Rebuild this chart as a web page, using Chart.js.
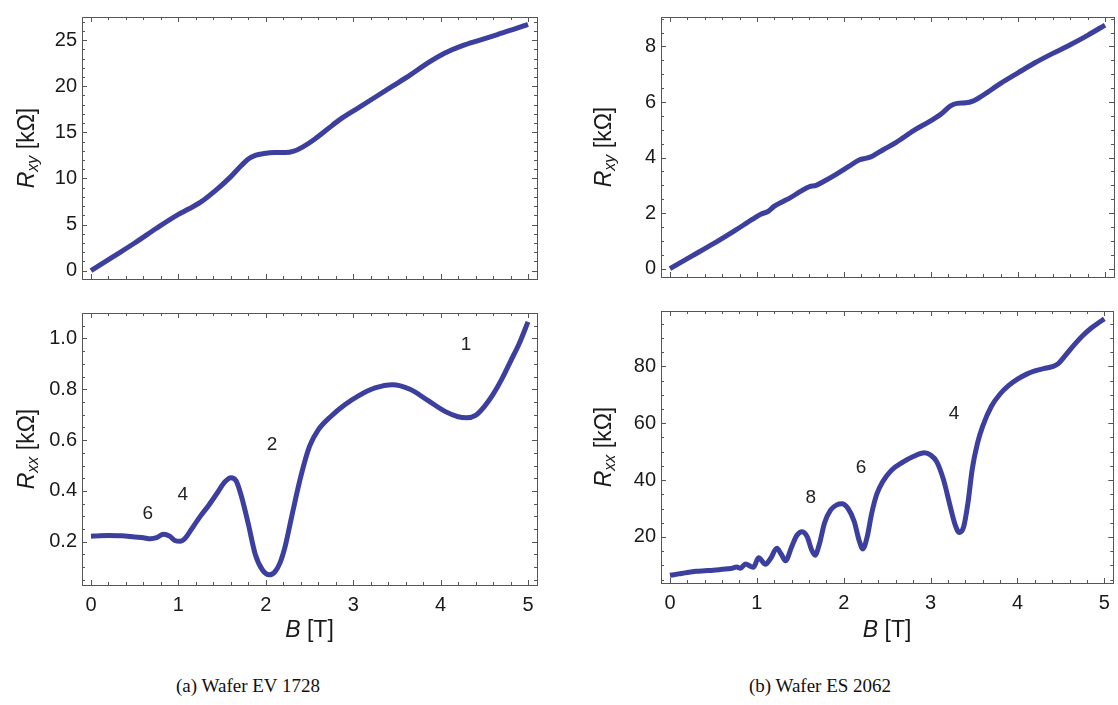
<!DOCTYPE html>
<html>
<head>
<meta charset="utf-8">
<script src="https://cdn.jsdelivr.net/npm/chart.js@4.4.1/dist/chart.umd.min.js"></script>
<style>
  body { margin: 0; background: #fff; width: 1118px; height: 705px; position: relative; overflow: hidden; }
  canvas { position: absolute; }
  .cap { position: absolute; top: 675px; font-family: "Liberation Serif", serif; font-size: 19px; color: #111; transform: translateX(-50%); white-space: nowrap; }
</style>
</head>
<body>
<canvas id="rxyA" width="560" height="296" style="left:0px;top:0px"></canvas>
<canvas id="rxxA" width="560" height="370" style="left:0px;top:296px"></canvas>
<canvas id="rxyB" width="558" height="294" style="left:560px;top:0px"></canvas>
<canvas id="rxxB" width="558" height="372" style="left:560px;top:294px"></canvas>
<div class="cap" style="left:248px">(a) Wafer EV 1728</div>
<div class="cap" style="left:820px">(b) Wafer ES 2062</div>
<script>
// ---- data ----
// (a) Wafer EV 1728
const bRxyA = [0, 0.25, 0.5, 0.75, 1.0, 1.1, 1.25, 1.45, 1.6, 1.72, 1.8, 1.88, 1.98, 2.1, 2.22, 2.32, 2.42, 2.55, 2.7, 2.85, 3.05, 3.25, 3.45, 3.65, 3.85, 4.05, 4.25, 4.45, 4.65, 4.85, 5.0];
const rxyA  = [0, 1.5, 3.0, 4.6, 6.1, 6.6, 7.4, 8.9, 10.2, 11.4, 12.1, 12.5, 12.7, 12.8, 12.8, 12.95, 13.4, 14.2, 15.3, 16.4, 17.6, 18.8, 20.0, 21.2, 22.5, 23.6, 24.4, 25.0, 25.6, 26.2, 26.7];

const bRxxA = [0, 0.1, 0.2, 0.35, 0.5, 0.6, 0.68, 0.75, 0.83, 0.9, 0.96, 1.02, 1.08, 1.15, 1.25, 1.35, 1.45, 1.53, 1.6, 1.66, 1.72, 1.8, 1.88, 1.96, 2.04, 2.1, 2.16, 2.22, 2.3, 2.4, 2.5, 2.6, 2.75, 2.9, 3.05, 3.25, 3.45, 3.65, 3.85, 4.05, 4.2, 4.3, 4.4, 4.5, 4.6, 4.7, 4.8, 4.9, 5.0];
const rxxA  = [0.222, 0.224, 0.225, 0.224, 0.219, 0.216, 0.212, 0.216, 0.23, 0.222, 0.205, 0.202, 0.215, 0.25, 0.30, 0.345, 0.395, 0.435, 0.452, 0.44, 0.38, 0.27, 0.15, 0.09, 0.07, 0.08, 0.115, 0.18, 0.305, 0.456, 0.575, 0.64, 0.695, 0.738, 0.772, 0.805, 0.818, 0.80, 0.757, 0.713, 0.692, 0.688, 0.697, 0.732, 0.78, 0.84, 0.91, 0.98, 1.065];

// (b) Wafer ES 2062
const bRxyB = [0, 0.25, 0.5, 0.75, 0.95, 1.05, 1.12, 1.2, 1.3, 1.38, 1.5, 1.6, 1.68, 1.76, 1.9, 2.05, 2.18, 2.26, 2.33, 2.45, 2.6, 2.8, 3.0, 3.12, 3.22, 3.3, 3.4, 3.48, 3.6, 3.8, 4.0, 4.2, 4.4, 4.6, 4.8, 5.0];
const rxyB  = [0, 0.45, 0.9, 1.38, 1.78, 1.97, 2.05, 2.25, 2.42, 2.55, 2.78, 2.95, 3.0, 3.13, 3.38, 3.67, 3.92, 3.98, 4.06, 4.28, 4.55, 4.97, 5.33, 5.58, 5.85, 5.95, 5.97, 6.03, 6.25, 6.67, 7.05, 7.42, 7.75, 8.06, 8.4, 8.77];

const bRxxB = [0, 0.1, 0.2, 0.3, 0.4, 0.5, 0.6, 0.7, 0.77, 0.81, 0.87, 0.93, 0.96, 1.02, 1.1, 1.16, 1.23, 1.28, 1.33, 1.4, 1.46, 1.52, 1.58, 1.63, 1.67, 1.72, 1.78, 1.85, 1.92, 1.98, 2.05, 2.12, 2.18, 2.22, 2.27, 2.32, 2.38, 2.45, 2.55, 2.68, 2.8, 2.93, 3.0, 3.07, 3.15, 3.22, 3.28, 3.33, 3.38, 3.43, 3.48, 3.54, 3.6, 3.7, 3.8, 3.9, 4.0, 4.1, 4.2, 4.3, 4.4, 4.47, 4.55, 4.65, 4.75, 4.85, 4.93, 5.0];
const rxxB  = [6.5, 7.0, 7.5, 7.9, 8.1, 8.3, 8.6, 8.9, 9.4, 9.0, 10.5, 9.6, 9.3, 12.7, 10.4, 12.5, 16.0, 14.0, 11.6, 16.5, 20.5, 21.8, 20.0, 15.5, 13.6, 17.5, 25, 29.5, 31.3, 31.7, 30.0, 25.5, 18.5, 15.8, 20.0, 28, 35, 39.5, 43.5, 46.3, 48.3, 49.6, 48.8, 46.5, 40, 31.5, 24.5, 21.6, 23.5, 32, 44, 53, 59, 66, 70.3, 73.3, 75.5, 77.2, 78.4, 79.2, 79.9, 81.0, 83.8, 87.5, 90.8, 93.5, 95.3, 96.7];

// tick labels
const bTicks = [0, 1, 2, 3, 4, 5];
const yTicksRxyA = [0, 5, 10, 15, 20, 25];
const yTicksRxxA = [0.2, 0.4, 0.6, 0.8, 1.0];
const yTicksRxyB = [0, 2, 4, 6, 8];
const yTicksRxxB = [20, 40, 60, 80];

// filling-factor labels on the Rxx curves
const nuTextA = ['6', '4', '2', '1'];
const nuBA    = [0.65, 1.05, 2.07, 4.29];
const nuRA    = [0.31, 0.384, 0.58, 0.977];
const nuTextB = ['8', '6', '4'];
const nuBB    = [1.62, 2.2, 3.27];
const nuRB    = [33.8, 44.4, 63.2];

const lineColor = '#3c3f9e';
const sans = '"Liberation Sans", Arial, sans-serif';

// frame with inward ticks on all four sides, axis titles, labels
const framePlugin = {
  id: 'frame',
  afterDatasetsDraw(chart, args, o) {
    const ctx = chart.ctx, a = chart.chartArea;
    const xs = chart.scales.x, ys = chart.scales.y;
    ctx.save();
    ctx.strokeStyle = '#555';
    ctx.lineWidth = 1;
    ctx.strokeRect(Math.round(a.left) + 0.5, Math.round(a.top) + 0.5, Math.round(a.right - a.left), Math.round(a.bottom - a.top));
    const near = (v, list) => list.some(t => Math.abs(t - v) < 1e-6);
    const minors = (s, step, majors) => {
      const out = [];
      for (let v = Math.ceil(s.min / step) * step; v <= s.max + 1e-9; v += step) {
        const r = Math.round(v / step) * step;
        if (!near(r, majors)) out.push(r);
      }
      return out;
    };
    const xt = (vals, len) => vals.forEach(v => {
      const p = Math.round(xs.getPixelForValue(v)) + 0.5;
      if (p < a.left || p > a.right) return;
      ctx.beginPath();
      ctx.moveTo(p, a.bottom); ctx.lineTo(p, a.bottom - len);
      ctx.moveTo(p, a.top); ctx.lineTo(p, a.top + len);
      ctx.stroke();
    });
    const yt = (vals, len) => vals.forEach(v => {
      const p = Math.round(ys.getPixelForValue(v)) + 0.5;
      if (p < a.top || p > a.bottom) return;
      ctx.beginPath();
      ctx.moveTo(a.left, p); ctx.lineTo(a.left + len, p);
      ctx.moveTo(a.right, p); ctx.lineTo(a.right - len, p);
      ctx.stroke();
    });
    xt(o.xMajor, 5);
    xt(minors(xs, o.xMinor, o.xMajor), 3);
    yt(o.yMajor, 5);
    yt(minors(ys, o.yMinor, o.yMajor), 3);

    // rich text helper
    const rich = (segs, cx, cy, rot) => {
      ctx.save();
      ctx.translate(cx, cy);
      if (rot) ctx.rotate(-Math.PI / 2);
      ctx.fillStyle = '#1a1a1a';
      ctx.textBaseline = 'middle';
      ctx.textAlign = 'left';
      let w = 0;
      segs.forEach(s => { ctx.font = s.font; w += ctx.measureText(s.t).width; });
      let x = -w / 2;
      segs.forEach(s => {
        ctx.font = s.font;
        ctx.fillText(s.t, x, s.dy || 0);
        x += ctx.measureText(s.t).width;
      });
      ctx.restore();
    };
    rich([
      { t: 'R', font: 'italic 23px ' + sans },
      { t: o.sub, font: 'italic 16px ' + sans, dy: 6 },
      { t: ' [k\u03A9]', font: '23px ' + sans }
    ], o.yTitleX, (a.top + a.bottom) / 2, true);
    if (o.xTitleY) {
      rich([
        { t: 'B', font: 'italic 23px ' + sans },
        { t: ' [T]', font: '23px ' + sans }
      ], (a.left + a.right) / 2, o.xTitleY, false);
    }
    if (o.notes) {
      ctx.fillStyle = '#222';
      ctx.font = '19px ' + sans;
      ctx.textAlign = 'center';
      ctx.textBaseline = 'middle';
      o.notes.text.forEach((t, i) => {
        ctx.fillText(t, xs.getPixelForValue(o.notes.b[i]), ys.getPixelForValue(o.notes.r[i]));
      });
    }
    ctx.restore();
  }
};

function makePanel(id, bs, rs, p) {
  const canvas = document.getElementById(id);
  const H = canvas.height;
  return new Chart(canvas, {
    type: 'line',
    data: {
      datasets: [{
        data: bs.map((b, i) => ({ x: b, y: rs[i] })),
        borderColor: lineColor,
        borderWidth: 5,
        pointRadius: 0,
        cubicInterpolationMode: 'monotone',
        fill: false
      }]
    },
    options: {
      responsive: false,
      animation: false,
      events: [],
      layout: { padding: { left: 0, top: p.top, right: p.right, bottom: 0 } },
      plugins: {
        legend: { display: false },
        tooltip: { enabled: false },
        frame: p.frame
      },
      scales: {
        x: {
          type: 'linear',
          min: -0.103, max: 5.103,
          grid: { display: false, drawTicks: false },
          border: { display: false },
          afterBuildTicks: s => { s.ticks = bTicks.map(v => ({ value: v })); },
          afterFit: s => { s.height = H - p.bottom; },
          ticks: {
            display: p.showX,
            padding: 8,
            color: '#1a1a1a',
            font: { family: sans, size: 20 },
            maxRotation: 0,
            callback: v => String(v)
          }
        },
        y: {
          min: p.ymin, max: p.ymax,
          grid: { display: false, drawTicks: false },
          border: { display: false },
          afterBuildTicks: s => { s.ticks = p.yTicks.map(v => ({ value: v })); },
          afterFit: s => { s.width = p.left; },
          ticks: {
            padding: 5,
            color: '#1a1a1a',
            font: { family: sans, size: 20 },
            callback: v => v.toFixed(p.dec)
          }
        }
      }
    },
    plugins: [framePlugin]
  });
}

makePanel('rxyA', bRxyA, rxyA, {
  left: 82, right: 23, top: 7, bottom: 288, ymin: -0.9, ymax: 27.5, yTicks: yTicksRxyA, dec: 0, showX: false,
  frame: { xMajor: bTicks, xMinor: 0.2, yMajor: yTicksRxyA, yMinor: 1, sub: 'xy', yTitleX: 28 }
});
makePanel('rxxA', bRxxA, rxxA, {
  left: 82, right: 23, top: 7, bottom: 289, ymin: 0.03, ymax: 1.10, yTicks: yTicksRxxA, dec: 1, showX: true,
  frame: { xMajor: bTicks, xMinor: 0.2, yMajor: yTicksRxxA, yMinor: 0.05, sub: 'xx', yTitleX: 28, xTitleY: 335,
           notes: { text: nuTextA, b: nuBA, r: nuRA } }
});
makePanel('rxyB', bRxyB, rxyB, {
  left: 101, right: 4, top: 5, bottom: 288, ymin: -0.3, ymax: 9.06, yTicks: yTicksRxyB, dec: 0, showX: false,
  frame: { xMajor: bTicks, xMinor: 0.2, yMajor: yTicksRxyB, yMinor: 0.5, sub: 'xy', yTitleX: 45 }
});
makePanel('rxxB', bRxxB, rxxB, {
  left: 101, right: 4, top: 5, bottom: 289, ymin: 3.8, ymax: 99.5, yTicks: yTicksRxxB, dec: 0, showX: true,
  frame: { xMajor: bTicks, xMinor: 0.2, yMajor: yTicksRxxB, yMinor: 5, sub: 'xx', yTitleX: 45, xTitleY: 337,
           notes: { text: nuTextB, b: nuBB, r: nuRB } }
});
</script>
</body>
</html>
